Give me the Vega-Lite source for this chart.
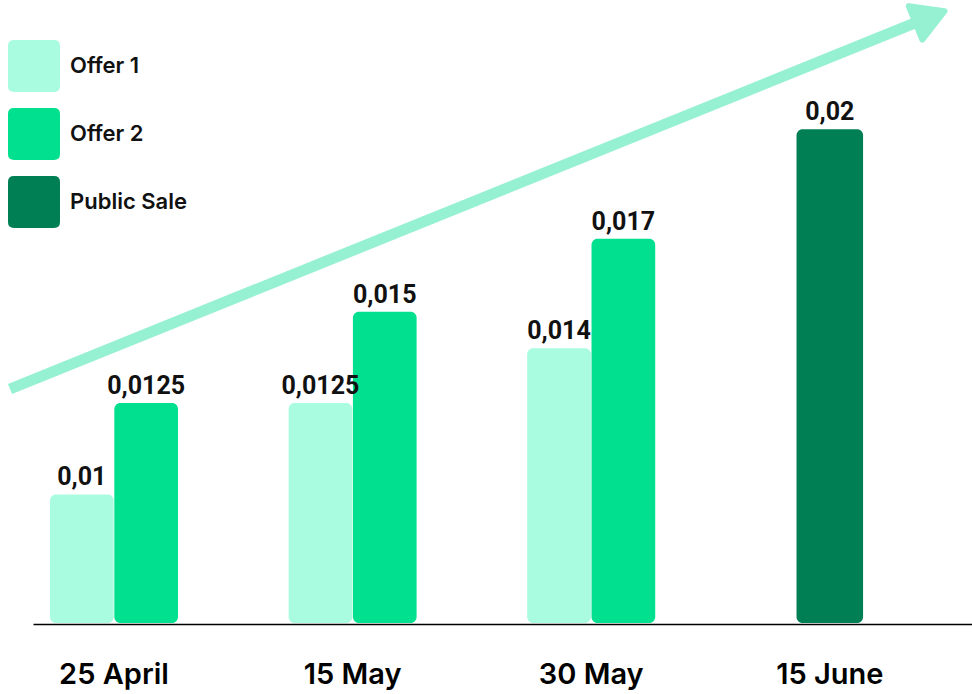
{
  "$schema": "https://vega.github.io/schema/vega-lite/v6.json",
  "autosize": {"type": "none"},
  "width": 939,
  "height": 624,
  "padding": {"left": 33, "top": 0, "right": 0, "bottom": 70},
  "background": "white",
  "datasets": {
    "prices": [
      {"date": "25 April", "series": "Offer 1", "value": 0.01, "label": "0,01"},
      {"date": "25 April", "series": "Offer 2", "value": 0.0125, "label": "0,0125"},
      {"date": "15 May", "series": "Offer 1", "value": 0.0125, "label": "0,0125"},
      {"date": "15 May", "series": "Offer 2", "value": 0.015, "label": "0,015"},
      {"date": "30 May", "series": "Offer 1", "value": 0.014, "label": "0,014"},
      {"date": "30 May", "series": "Offer 2", "value": 0.017, "label": "0,017"},
      {"date": "15 June", "series": "Public Sale", "value": 0.02, "label": "0,02"}
    ],
    "arrow": [
      {"px": -0.0245, "py": 0.3766},
      {"px": 0.95, "py": 0.9696}
    ],
    "arrowhead": [
      {"px": 0.9553, "py": 0.9728}
    ]
  },
  "layer": [
    {
      "data": {"name": "prices"},
      "layer": [
        {
          "transform": [{"filter": "datum.series !== 'Public Sale'"}],
          "mark": {"type": "bar", "cornerRadius": 6},
          "encoding": {
            "x": {"field": "date", "type": "nominal", "title": null},
            "xOffset": {"field": "series", "type": "nominal", "scale": {"domain": ["Offer 1", "Offer 2"], "paddingInner": 0.01, "paddingOuter": 0}},
            "y": {"field": "value", "type": "quantitative", "axis": null},
            "y2": {"datum": 0.00648},
            "color": {
              "field": "series",
              "type": "nominal",
              "scale": {"domain": ["Offer 1", "Offer 2", "Public Sale"], "range": ["#A9FCE0", "#00E08F", "#007F55"]},
              "legend": {
                "title": null,
                "orient": "none",
                "legendX": -25,
                "legendY": 40,
                "direction": "vertical",
                "symbolType": "M-0.77,-1H0.77Q1,-1 1,-0.77V0.77Q1,1 0.77,1H-0.77Q-1,1 -1,0.77V-0.77Q-1,-1 -0.77,-1Z",
                "symbolSize": 2704,
                "symbolStrokeWidth": 0,
                "symbolOpacity": 1,
                "rowPadding": 16,
                "labelOffset": 10,
                "labelFont": "Inter",
                "labelFontSize": 22,
                "labelFontWeight": 600,
                "labelColor": "#111",
                "padding": 0
              }
            }
          }
        },
        {
          "transform": [{"filter": "datum.series === 'Public Sale'"}],
          "mark": {"type": "bar", "cornerRadius": 6, "width": {"band": 0.52}},
          "encoding": {
            "x": {"field": "date", "type": "nominal", "title": null},
            "y": {"field": "value", "type": "quantitative", "axis": null},
            "y2": {"datum": 0.00648},
            "color": {"field": "series", "type": "nominal"}
          }
        },
        {
          "transform": [{"filter": "datum.series !== 'Public Sale'"}],
          "mark": {"type": "text", "font": "Roboto", "fontSize": 25, "fontWeight": 700, "color": "#111", "baseline": "alphabetic", "dy": -9},
          "encoding": {
            "x": {"field": "date", "type": "nominal", "title": null},
            "xOffset": {"field": "series", "type": "nominal"},
            "y": {"field": "value", "type": "quantitative", "axis": null},
            "text": {"field": "label"}
          }
        },
        {
          "transform": [{"filter": "datum.series === 'Public Sale'"}],
          "mark": {"type": "text", "font": "Roboto", "fontSize": 25, "fontWeight": 700, "color": "#111", "baseline": "alphabetic", "dy": -9},
          "encoding": {
            "x": {"field": "date", "type": "nominal", "title": null},
            "y": {"field": "value", "type": "quantitative", "axis": null},
            "text": {"field": "label"}
          }
        }
      ],
      "encoding": {
        "x": {
          "field": "date",
          "type": "nominal",
          "title": null,
          "axis": {"orient": "bottom"},
          "scale": {"domain": ["25 April", "15 May", "30 May", "15 June"], "paddingInner": 0.4635, "paddingOuter": 0.1995, "align": 0.1786}
        },
        "y": {
          "field": "value",
          "type": "quantitative",
          "axis": null,
          "scale": {"domain": [0.00645, 0.02354], "nice": false, "zero": false}
        }
      }
    },
    {
      "layer": [
        {
          "data": {"name": "arrow"},
          "mark": {"type": "line", "color": "#96F0D2", "strokeWidth": 11, "strokeCap": "butt"},
          "encoding": {
            "x": {"field": "px", "type": "quantitative", "scale": {"domain": [0, 1], "nice": false, "zero": false}, "axis": null},
            "y": {"field": "py", "type": "quantitative", "scale": {"domain": [0, 1], "nice": false, "zero": false}, "axis": null}
          }
        },
        {
          "data": {"name": "arrowhead"},
          "mark": {"type": "point", "shape": "triangle-right", "filled": true, "size": 1300, "angle": -22, "color": "#96F0D2", "stroke": "#96F0D2", "strokeWidth": 6, "strokeJoin": "round", "opacity": 1},
          "encoding": {
            "x": {"field": "px", "type": "quantitative"},
            "y": {"field": "py", "type": "quantitative"}
          }
        }
      ]
    }
  ],
  "resolve": {"scale": {"x": "independent", "y": "independent"}},
  "config": {
    "view": {"stroke": null},
    "axisX": {
      "domain": true,
      "domainColor": "#000",
      "domainWidth": 1.5,
      "ticks": false,
      "tickSize": 0,
      "grid": false,
      "labelAngle": 0,
      "labelFont": "Inter",
      "labelFontSize": 29,
      "labelFontWeight": 600,
      "labelColor": "#000",
      "labelBaseline": "alphabetic",
      "labelPadding": 59
    }
  }
}
